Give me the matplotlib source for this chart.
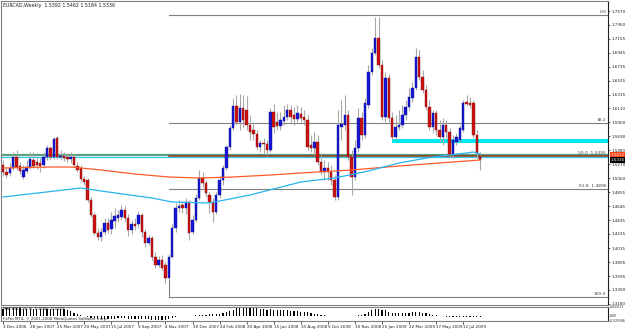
import matplotlib
matplotlib.use("Agg")
import matplotlib.pyplot as plt
import numpy as np

# weekly EURCAD candles, 3 Dec 2006 .. Aug 2009
opens = [1.5260, 1.5155, 1.5140, 1.5215, 1.5380, 1.5245, 1.5080, 1.5170, 1.5230, 1.5335,
         1.5305, 1.5290, 1.5260, 1.5380, 1.5515, 1.5380, 1.5665, 1.5380, 1.5395, 1.5380,
         1.5350, 1.5380, 1.5245, 1.5215, 1.5050, 1.5035, 1.4735, 1.4510, 1.4240, 1.4180,
         1.4255, 1.4390, 1.4300, 1.4420, 1.4465, 1.4480, 1.4585, 1.4465, 1.4285, 1.4375,
         1.4375, 1.4510, 1.4255, 1.4090, 1.4165, 1.3880, 1.3760, 1.3835, 1.3760, 1.3565,
         1.3880, 1.4315, 1.4615, 1.4660, 1.4615, 1.4705, 1.4255, 1.4435, 1.4765, 1.5065,
         1.4990, 1.4810, 1.4705, 1.4555, 1.4810, 1.5035, 1.5215, 1.5530, 1.5815, 1.6145,
         1.5905, 1.6115, 1.6085, 1.5860, 1.5785, 1.5725, 1.5530, 1.5590, 1.5575, 1.5485,
         1.6055, 1.5905, 1.5845, 1.5920, 1.5980, 1.6085, 1.6010, 1.5950, 1.6025, 1.5980,
         1.5935, 1.5560, 1.5515, 1.5605, 1.5305, 1.5155, 1.5215, 1.5155, 1.5035, 1.4780,
         1.5830, 1.5860, 1.6010, 1.5380, 1.5080, 1.5515, 1.5965, 1.5710, 1.6160, 1.6655,
         1.6940, 1.7165, 1.6760, 1.5980, 1.6565, 1.5965, 1.5680, 1.5830, 1.5860, 1.6010,
         1.6130, 1.6265, 1.6415, 1.6880, 1.6580, 1.6385, 1.6130, 1.5830, 1.6040, 1.5785,
         1.5680, 1.5860, 1.5755, 1.5410, 1.5605, 1.5635, 1.5785, 1.6205, 1.6190, 1.6190,
         1.5710, 1.5392]
highs = [1.5335, 1.5215, 1.5290, 1.5455, 1.5485, 1.5305, 1.5260, 1.5335, 1.5455, 1.5455,
         1.5380, 1.5365, 1.5455, 1.5560, 1.5545, 1.5680, 1.5695, 1.5485, 1.5455, 1.5440,
         1.5455, 1.5425, 1.5305, 1.5260, 1.5095, 1.5065, 1.4780, 1.4555, 1.4315, 1.4315,
         1.4465, 1.4465, 1.4555, 1.4615, 1.4585, 1.4660, 1.4645, 1.4525, 1.4435, 1.4465,
         1.4570, 1.4540, 1.4300, 1.4210, 1.4195, 1.3955, 1.3895, 1.3910, 1.3805, 1.3925,
         1.4375, 1.4690, 1.4735, 1.4720, 1.4765, 1.4735, 1.4510, 1.4825, 1.5185, 1.5155,
         1.5035, 1.4855, 1.4765, 1.4855, 1.5095, 1.5260, 1.5560, 1.5860, 1.6265, 1.6310,
         1.6325, 1.6310, 1.6295, 1.6010, 1.5875, 1.5785, 1.5635, 1.5665, 1.5635, 1.6115,
         1.6175, 1.6055, 1.6055, 1.6160, 1.6175, 1.6160, 1.6130, 1.6160, 1.6130, 1.6085,
         1.6010, 1.5710, 1.5755, 1.5710, 1.5410, 1.5335, 1.5305, 1.5260, 1.5110, 1.6085,
         1.6235, 1.6310, 1.6085, 1.5485, 1.5635, 1.6115, 1.6055, 1.6265, 1.6760, 1.7015,
         1.7480, 1.7480, 1.6835, 1.6655, 1.6625, 1.6055, 1.6010, 1.6085, 1.6160, 1.6235,
         1.6415, 1.6505, 1.7015, 1.6985, 1.6685, 1.6460, 1.6235, 1.6085, 1.6085, 1.5935,
         1.5965, 1.5935, 1.5815, 1.5710, 1.5740, 1.5860, 1.6235, 1.6310, 1.6280, 1.6235,
         1.5785, 1.5462]
lows = [1.5095, 1.5065, 1.5095, 1.5185, 1.5185, 1.5125, 1.5050, 1.5140, 1.5200, 1.5215,
        1.5200, 1.5155, 1.5215, 1.5335, 1.5335, 1.5350, 1.5350, 1.5335, 1.5320, 1.5305,
        1.5290, 1.5230, 1.5155, 1.5020, 1.4960, 1.4705, 1.4480, 1.4210, 1.4135, 1.4120,
        1.4210, 1.4240, 1.4225, 1.4315, 1.4405, 1.4435, 1.4405, 1.4195, 1.4225, 1.4285,
        1.4315, 1.4180, 1.4030, 1.4060, 1.3835, 1.3715, 1.3730, 1.3685, 1.3490, 1.3535,
        1.3865, 1.4255, 1.4555, 1.4540, 1.4525, 1.4135, 1.4225, 1.4405, 1.4735, 1.4930,
        1.4780, 1.4540, 1.4405, 1.4525, 1.4765, 1.4960, 1.5185, 1.5485, 1.5785, 1.5860,
        1.5785, 1.5830, 1.5785, 1.5635, 1.5635, 1.5485, 1.5455, 1.5440, 1.5410, 1.5455,
        1.5740, 1.5785, 1.5785, 1.5860, 1.5935, 1.5905, 1.5860, 1.5905, 1.5905, 1.5860,
        1.5485, 1.5455, 1.5410, 1.5260, 1.5110, 1.5035, 1.5035, 1.4960, 1.4735, 1.4735,
        1.5635, 1.5785, 1.5335, 1.4810, 1.5035, 1.5455, 1.5635, 1.5665, 1.6115, 1.6610,
        1.6910, 1.6715, 1.5935, 1.5905, 1.5905, 1.5635, 1.5635, 1.5785, 1.5815, 1.5935,
        1.6085, 1.6205, 1.6385, 1.6535, 1.6340, 1.6085, 1.5785, 1.5740, 1.5710, 1.5605,
        1.5560, 1.5665, 1.5365, 1.5365, 1.5560, 1.5605, 1.5755, 1.6145, 1.6115, 1.5665,
        1.5365, 1.5184]
closes = [1.5155, 1.5110, 1.5215, 1.5380, 1.5230, 1.5170, 1.5185, 1.5230, 1.5350, 1.5245,
          1.5260, 1.5245, 1.5380, 1.5515, 1.5380, 1.5650, 1.5380, 1.5395, 1.5365, 1.5350,
          1.5380, 1.5260, 1.5185, 1.5050, 1.5005, 1.4735, 1.4510, 1.4240, 1.4180, 1.4255,
          1.4390, 1.4285, 1.4435, 1.4495, 1.4510, 1.4585, 1.4465, 1.4285, 1.4375, 1.4345,
          1.4510, 1.4255, 1.4090, 1.4165, 1.3880, 1.3760, 1.3835, 1.3715, 1.3565, 1.3880,
          1.4315, 1.4615, 1.4645, 1.4615, 1.4705, 1.4240, 1.4435, 1.4765, 1.5065, 1.4990,
          1.4840, 1.4705, 1.4555, 1.4810, 1.5035, 1.5215, 1.5530, 1.5815, 1.6145, 1.5905,
          1.6115, 1.5935, 1.5860, 1.5755, 1.5725, 1.5530, 1.5590, 1.5575, 1.5485, 1.6055,
          1.5830, 1.5845, 1.5935, 1.5980, 1.6085, 1.5980, 1.5950, 1.6040, 1.5965, 1.5935,
          1.5530, 1.5515, 1.5605, 1.5305, 1.5155, 1.5215, 1.5155, 1.5035, 1.4780, 1.5860,
          1.5875, 1.6010, 1.5380, 1.5080, 1.5515, 1.5965, 1.5710, 1.6190, 1.6655, 1.6940,
          1.7165, 1.6760, 1.5980, 1.6565, 1.5965, 1.5680, 1.5830, 1.5860, 1.6010, 1.6130,
          1.6280, 1.6415, 1.6880, 1.6580, 1.6385, 1.6130, 1.5830, 1.6040, 1.5785, 1.5680,
          1.5860, 1.5755, 1.5410, 1.5635, 1.5680, 1.5815, 1.6190, 1.6175, 1.6160, 1.5710,
          1.5440, 1.5336]

# moving averages read at sample bars
ma_red_bar = [0, 14, 20, 29, 39, 49, 58, 68, 79, 88, 103, 117, 129, 141]
ma_red_val = [1.5215, 1.5230, 1.5230, 1.5185, 1.5125, 1.5080, 1.5065, 1.5080, 1.5110,
              1.5140, 1.5185, 1.5245, 1.5290, 1.5335]
ma_blue_bar = [0, 23, 29, 44, 50, 61, 73, 88, 98, 108, 117, 127, 137, 139, 141]
ma_blue_val = [1.4780, 1.4915, 1.4870, 1.4765, 1.4705, 1.4690, 1.4810, 1.5005, 1.5065,
               1.5170, 1.5290, 1.5380, 1.5440, 1.5455, 1.5425]

# bottom oscillator histogram
osc = [0.035, 0.036, 0.036, 0.038, 0.037, 0.036, 0.035, 0.034, 0.035, 0.034,
       0.033, 0.032, 0.032, 0.033, 0.033, 0.034, 0.035, 0.034, 0.033, 0.028,
       0.022, 0.015, 0.008, 0.003, -0.002, -0.006, -0.009, -0.012, -0.014, -0.015,
       -0.015, -0.015, -0.014, -0.014, -0.013, -0.013, -0.013, -0.014, -0.014, -0.014,
       -0.015, -0.016, -0.017, -0.018, -0.019, -0.020, -0.021, -0.022, -0.022, -0.018,
       -0.012, -0.006, -0.003, -0.002, -0.001, 0.001, 0.001, 0.002, 0.003, 0.005,
       0.006, 0.007, 0.008, 0.009, 0.011, 0.014, 0.018, 0.024, 0.030, 0.036,
       0.040, 0.042, 0.042, 0.040, 0.039, 0.037, 0.034, 0.032, 0.030, 0.031,
       0.030, 0.029, 0.028, 0.027, 0.026, 0.025, 0.024, 0.022, 0.020, 0.018,
       0.016, 0.013, 0.010, 0.007, 0.004, 0.002, 0.001, -0.001, -0.002, -0.002,
       -0.001, -0.001, -0.002, -0.002, 0.001, 0.003, 0.005, 0.010, 0.020, 0.028,
       0.034, 0.033, 0.030, 0.026, 0.020, 0.015, 0.012, 0.012, 0.012, 0.013,
       0.015, 0.016, 0.016, 0.016, 0.015, 0.012, 0.009, 0.006, 0.003, 0.001,
       -0.001, -0.004, -0.006, -0.007, -0.008, -0.008, -0.007, -0.006, -0.006, -0.006,
       -0.007, -0.008]

price_ticks = [1.7570, 1.7360, 1.7155, 1.6945, 1.6735, 1.6525, 1.6315, 1.6110, 1.5900,
               1.5690, 1.5480, 1.5270, 1.5060, 1.4855, 1.4645, 1.4435, 1.4225, 1.4015,
               1.3805, 1.3595, 1.3390, 1.3180]
date_labels = ['3 Dec 2006', '28 Jan 2007', '25 Mar 2007', '20 May 2007', '15 Jul 2007',
               '9 Sep 2007', '4 Nov 2007', '30 Dec 2007', '24 Feb 2008', '20 Apr 2008',
               '15 Jun 2008', '10 Aug 2008', '5 Oct 2008', '30 Nov 2008', '25 Jan 2009',
               '22 Mar 2009', '17 May 2009', '12 Jul 2009']

fib_high = 1.7510
fib_low = 1.3280
fib_start = 49
fib_levels = [0.0, 38.2, 50.0, 61.8, 100.0]

W, H = 625, 330
fig = plt.figure(figsize=(W / 100, H / 100), dpi=100)
fig.patch.set_facecolor('white')

ax = fig.add_axes([1 / W, (H - 305) / H, 607 / W, 304 / H])
axo = fig.add_axes([1 / W, (H - 321) / H, 607 / W, 14 / H], sharex=ax)

n = len(closes)
idx = np.arange(n)
o = np.array(opens)
c = np.array(closes)
up = c >= o

ax.vlines(idx, lows, highs, color='#a8a8a8', lw=0.8, zorder=2)
body_lo = np.minimum(o, c)
body_h = np.maximum(np.abs(c - o), 0.0004)
ax.bar(idx[up], body_h[up], bottom=body_lo[up], width=0.72, color='#1515d8',
       edgecolor='#10108a', lw=0.3, zorder=3)
ax.bar(idx[~up], body_h[~up], bottom=body_lo[~up], width=0.72, color='#cc1111',
       edgecolor='#801010', lw=0.3, zorder=3)

xmax = 178.8
# horizontal support lines
ax.axhspan(1.5365, 1.5380, color='#b8f0f8', lw=0, zorder=1)
ax.axhline(1.5380, color='#30c8e8', lw=0.9, zorder=1)
ax.axhline(1.5412, color='#5aa080', lw=1.6, zorder=1)
ax.fill_between([115, xmax], 1.5590, 1.5650, color='#00e8f0', lw=0, zorder=1)

# moving averages
ax.plot(ma_red_bar, ma_red_val, color='#ff5a28', lw=0.9, zorder=4)
ax.plot(ma_blue_bar, ma_blue_val, color='#28b4f0', lw=0.9, zorder=4)

# fibonacci retracement
for lvl in fib_levels:
    p = fib_high - (fib_high - fib_low) * lvl / 100.0
    col = '#8b3a1a' if lvl == 50.0 else '#808080'
    ax.plot([fib_start, xmax], [p, p], color=col, lw=0.8 if lvl != 50.0 else 1.1, zorder=1.5)
    txt = '%.1f' % lvl if lvl in (0.0, 38.2, 100.0) else '%.1f  %.4f' % (lvl, p)
    ax.text(0.997, p + 0.0012, txt, transform=ax.get_yaxis_transform(), ha='right',
            va='bottom', fontsize=3.2, color='#404040')
ax.plot([fib_start, fib_start], [fib_low, 1.3530], color='#808080', lw=0.8)

ax.set_xlim(-0.6, xmax)
ax.set_ylim(1.3160, 1.7720)
ax.yaxis.tick_right()
ax.set_yticks(price_ticks)
ax.set_yticklabels(['%.4f' % t for t in price_ticks])
ax.tick_params(axis='y', labelsize=3.0, length=1.5, width=0.5, pad=1, colors='#202020')
ax.tick_params(axis='x', bottom=False, labelbottom=False)
for s in ax.spines.values():
    s.set_color('#808080')
    s.set_linewidth(0.8)
ax.spines['right'].set_color('#202020')

# price labels at right
ax.text(1.004, 1.5412, '1.5412', transform=ax.get_yaxis_transform(), fontsize=3.0,
        color='white', va='center', ha='left', clip_on=False,
        bbox=dict(boxstyle='square,pad=0.15', fc='#ff4010', ec='none'))
ax.text(1.004, 1.5336, '1.5336', transform=ax.get_yaxis_transform(), fontsize=3.0,
        color='white', va='center', ha='left', clip_on=False,
        bbox=dict(boxstyle='square,pad=0.15', fc='black', ec='none'))

ax.text(0.004, 0.994, 'EURCAD,Weekly  1.5392 1.5462 1.5184 1.5336', transform=ax.transAxes,
        fontsize=3.4, va='top', ha='left', color='#202020')

# oscillator window
axo.bar(idx, osc, width=0.35, color='black', zorder=2)
axo.set_ylim(-0.0259, 0.0431)
axo.yaxis.tick_right()
axo.set_yticks([0.0431, 0.0, -0.0259])
axo.set_yticklabels(['0.043127', '0.00', '-0.025946'])
axo.tick_params(axis='y', labelsize=2.2, length=1.0, width=0.5, pad=0.5, colors='#202020')
axo.set_xticks(idx[::8][:len(date_labels)])
axo.set_xticklabels(date_labels, ha='left')
axo.tick_params(axis='x', labelsize=3.0, length=2, width=0.5, pad=1, colors='#202020')
for s in axo.spines.values():
    s.set_color('#808080')
    s.set_linewidth(0.8)
axo.spines['right'].set_color('#202020')
axo.text(0.004, 0.98, 'MACD(12,26,9)  0.0086  0.0105', transform=axo.transAxes,
         fontsize=2.8, va='top', ha='left', color='#202020')
axo.text(0.004, 0.03, 'FxPro MT4, \u00a9 2001-2008 MetaQuotes Software Corp.',
         transform=axo.transAxes, fontsize=2.8, va='bottom', ha='left', color='#202020')

fig.savefig('out.png', dpi=100, facecolor='white')
